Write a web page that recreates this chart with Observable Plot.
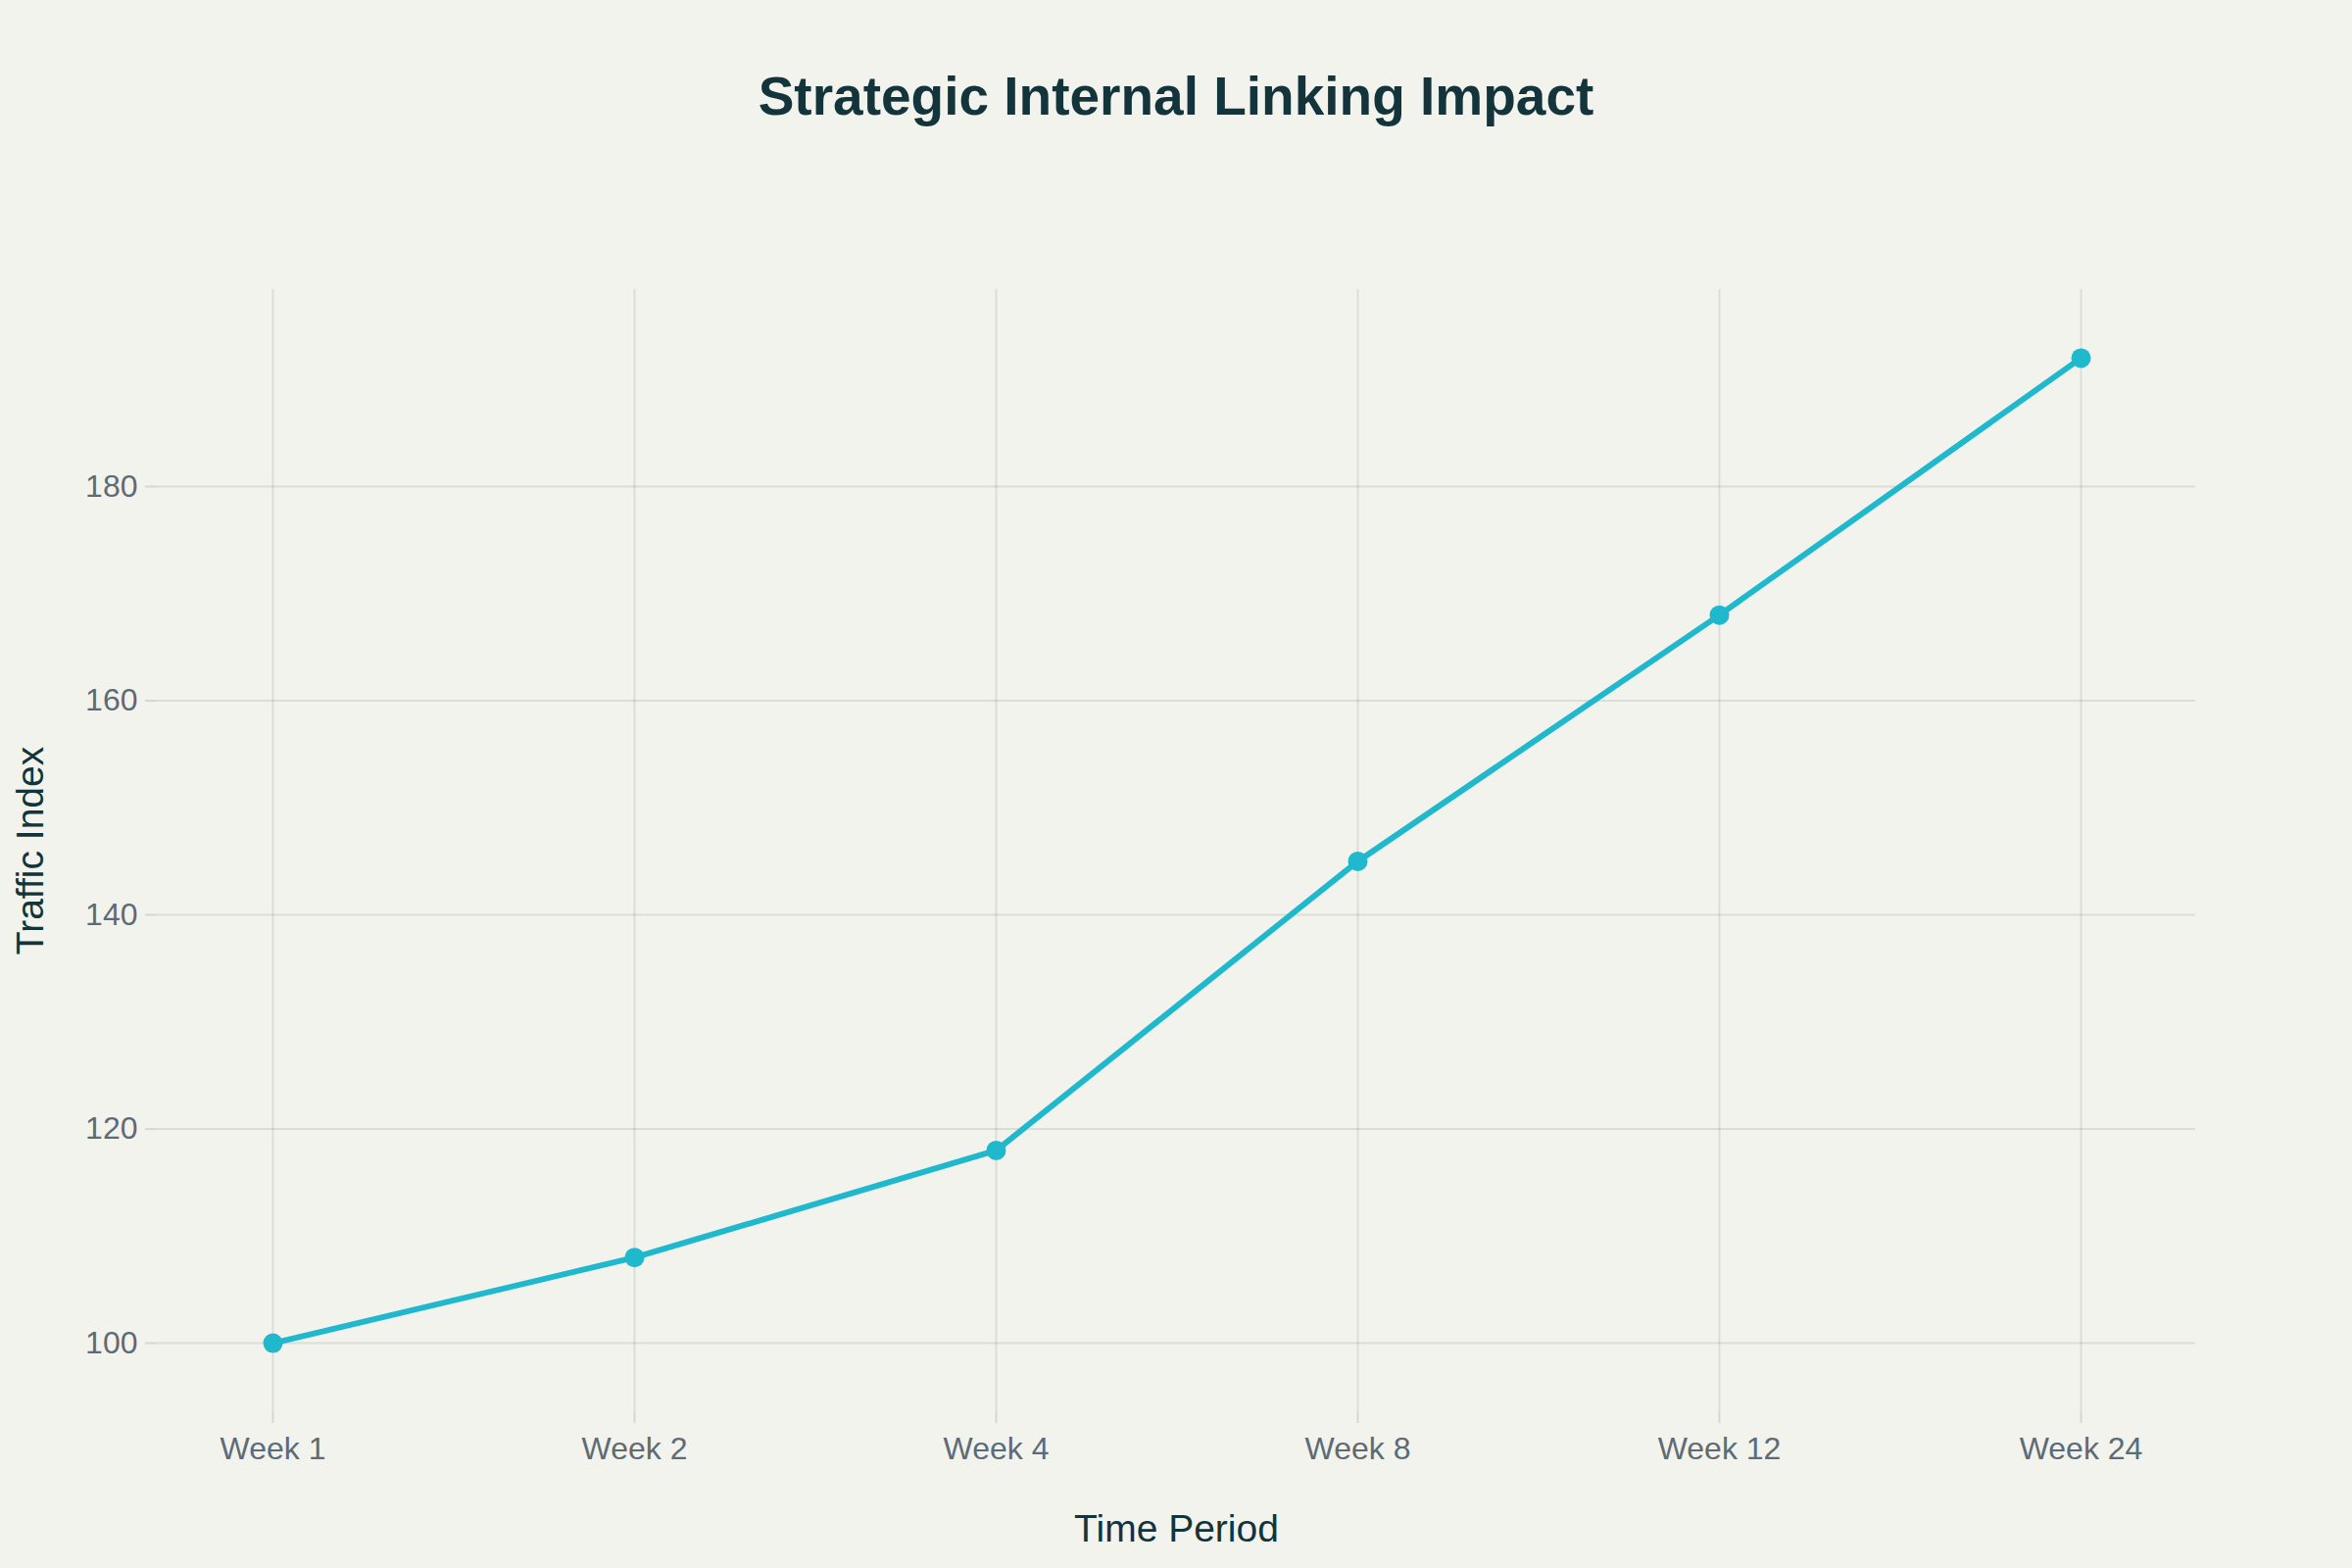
<!DOCTYPE html>
<html>
<head>
<meta charset="utf-8">
<script src="https://cdn.jsdelivr.net/npm/d3@7"></script>
<script src="https://cdn.jsdelivr.net/npm/@observablehq/plot@0.6"></script>
<style>
  html, body { margin: 0; padding: 0; background: #F3F3EE; }
  #title-wrap { height: 160px; width: 2400px; position: relative; }
  #title { position: absolute; top: 18px; left: 0; width: 2400px; height: 160px; line-height: 160px; text-align: center;
    font-family: "Liberation Sans", Arial, sans-serif; font-weight: bold; font-size: 55px; color: #13343B; }
</style>
</head>
<body>
<div id="title-wrap"><div id="title">Strategic Internal Linking Impact</div></div>
<div id="chart"></div>
<script>
const periods = ["Week 1", "Week 2", "Week 4", "Week 8", "Week 12", "Week 24"];
const traffic = [100, 108, 118, 145, 168, 192];
const yTicks = [100, 120, 140, 160, 180];
const xTitle = "Time Period";
const yTitle = "Traffic Index";

const data = periods.map((p, i) => ({period: p, value: traffic[i]}));
const color = "#1FB8CD";
const font = "Liberation Sans, Arial, sans-serif";

const chart = Plot.plot({
  width: 2400,
  height: 1440,
  marginTop: 135,
  marginBottom: 160,
  marginLeft: 160,
  marginRight: 160,
  style: {background: "#F3F3EE", fontFamily: font, fontSize: "32px", color: "#5d6b75"},
  x: {type: "point", domain: periods, padding: 0.316, label: null},
  y: {domain: [93.6, 198.4], label: null},
  marks: [
    Plot.gridX(periods, {stroke: "#000", strokeOpacity: 0.09, strokeWidth: 2}),
    Plot.gridY(yTicks, {stroke: "#000", strokeOpacity: 0.09, strokeWidth: 2}),
    Plot.axisX(periods, {tickSize: 12, tickPadding: 14, stroke: "#d6d6d2", strokeWidth: 2, fill: "#5d6b75", fontSize: 32, label: null}),
    Plot.axisY(yTicks, {tickSize: 12, tickPadding: 8, stroke: "#d6d6d2", strokeWidth: 2, fill: "#5d6b75", fontSize: 32, label: null}),
    Plot.line(data, {x: "period", y: "value", stroke: color, strokeWidth: 6, strokeLinejoin: "round", strokeLinecap: "round"}),
    Plot.dot(data, {x: "period", y: "value", r: 10, fill: color, stroke: "none"}),
    Plot.text([xTitle], {frameAnchor: "bottom", text: d => d, dy: 120, lineAnchor: "middle", textAnchor: "middle", fontSize: 39, fill: "#13343B"}),
    Plot.text([yTitle], {frameAnchor: "left", text: d => d, dx: -129, rotate: -90, lineAnchor: "middle", textAnchor: "middle", fontSize: 39, fill: "#13343B"})
  ]
});
document.getElementById("chart").appendChild(chart);
</script>
</body>
</html>
